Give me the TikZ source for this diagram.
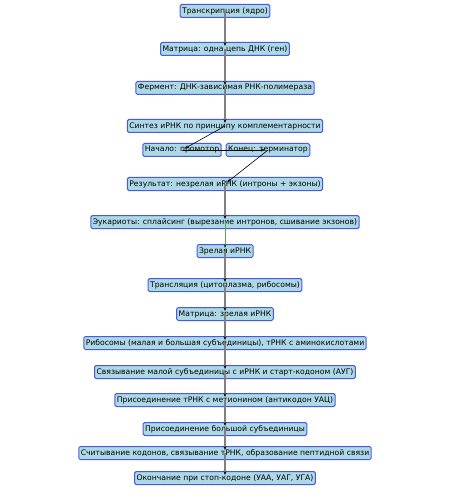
\documentclass[tikz,border=0pt]{standalone}
\usepackage{fontspec}
\setmainfont{DejaVu Sans}
\usetikzlibrary{arrows.meta}
\definecolor{boxfill}{HTML}{ADD8E6}
\definecolor{boxline}{HTML}{4A5AE0}
\definecolor{stepgreen}{HTML}{4CAF50}
\tikzset{
  stage/.style={draw=boxline,fill=boxfill,rounded corners=1.5bp,line width=1bp,
    inner xsep=2bp,inner ysep=0bp,minimum height=13bp,font=\fontsize{7.7}{8}\selectfont},
  flow/.style={draw=gray,line width=1.6bp,shorten >=3bp,-{Stealth[black,length=4bp,width=3bp]}},
  side/.style={draw=black,line width=0.6bp,shorten >=3bp,-{Stealth[black,length=4bp,width=3bp]}},
  splice/.style={draw=stepgreen,line width=1bp,shorten >=3bp,-{Stealth[black!70!green,length=4bp,width=3bp]}}
}
\begin{document}
\begin{tikzpicture}[x=1bp,y=-1bp]
  \useasboundingbox (0,0) rectangle (450,500);
  % transcription
  \node (tr)   at (225,11)  [stage] {Транскрипция (ядро)};
  \node (dna)  at (225,49)  [stage] {Матрица: одна цепь ДНК (ген)};
  \node (pol)  at (225,88)  [stage] {Фермент: ДНК-зависимая РНК-полимераза};
  \node (syn)  at (225,126) [stage] {Синтез иРНК по принципу комплементарности};
  \node (prom) at (182,150) [stage] {Начало: промотор};
  \node (term) at (268,150) [stage] {Конец: терминатор};
  \node (pre)  at (225,184) [stage] {Результат: незрелая иРНК (интроны + экзоны)};
  \node (spl)  at (225,222) [stage] {Эукариоты: сплайсинг (вырезание интронов, сшивание экзонов)};
  \node (mrna) at (225,251) [stage] {Зрелая иРНК};
  % translation
  \node (tl)   at (225,285) [stage] {Трансляция (цитоплазма, рибосомы)};
  \node (tmpl) at (225,314) [stage] {Матрица: зрелая иРНК};
  \node (rib)  at (225,343) [stage] {Рибосомы (малая и большая субъединицы), тРНК с аминокислотами};
  \node (bind) at (225,372) [stage] {Связывание малой субъединицы с иРНК и старт-кодоном (АУГ)};
  \node (met)  at (225,400) [stage] {Присоединение тРНК с метионином (антикодон УАЦ)};
  \node (big)  at (225,429) [stage] {Присоединение большой субъединицы};
  \node (read) at (225,453) [stage] {Считывание кодонов, связывание тРНК, образование пептидной связи};
  \node (stop) at (225,478) [stage] {Окончание при стоп-кодоне (УАА, УАГ, УГА)};
  % connectors
  \draw[flow] (tr.center) -- (dna.center);
  \draw[flow] (dna.center) -- (pol.center);
  \draw[flow] (pol.center) -- (syn.center);
  \draw[side] (syn.center) -- (prom.center);
  \draw[side] (prom.center) -- (term.center);
  \draw[side] (term.center) -- (pre.center);
  \draw[flow] (pre.center) -- (spl.center);
  \draw[splice] (spl.center) -- (mrna.center);
  \draw[flow] (mrna.center) -- (tl.center);
  \draw[flow] (tl.center) -- (tmpl.center);
  \draw[flow] (tmpl.center) -- (rib.center);
  \draw[flow] (rib.center) -- (bind.center);
  \draw[flow] (bind.center) -- (met.center);
  \draw[flow] (met.center) -- (big.center);
  \draw[flow] (big.center) -- (read.center);
  \draw[flow] (read.center) -- (stop.center);
\end{tikzpicture}
\end{document}
